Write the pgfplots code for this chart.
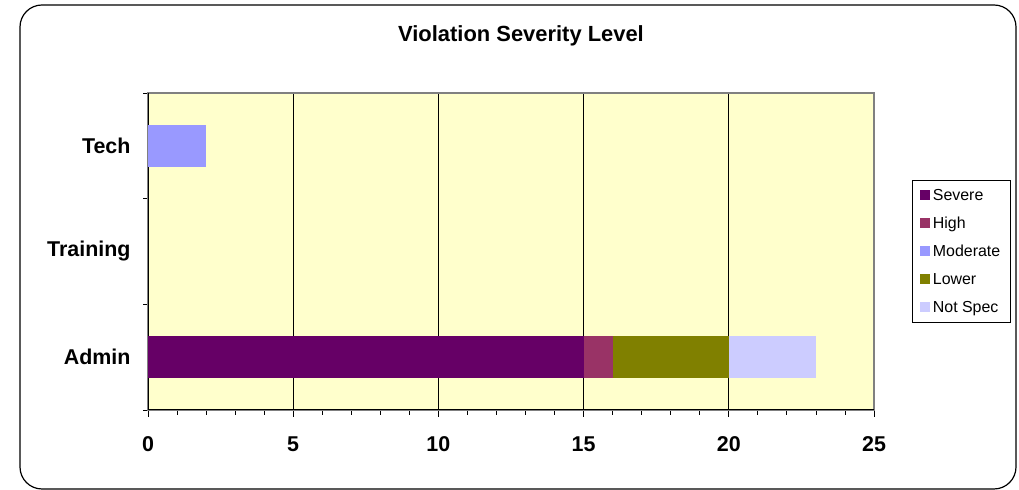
\documentclass[border=0pt]{standalone}
\usepackage{fontspec}
\setmainfont{Liberation Sans}
\usepackage{pgfplots}
\pgfplotsset{compat=1.18}
\definecolor{cSevere}{HTML}{660066}
\definecolor{cHigh}{HTML}{993366}
\definecolor{cModerate}{HTML}{9999FF}
\definecolor{cLower}{HTML}{808000}
\definecolor{cNotSpec}{HTML}{CCCCFF}
\definecolor{bgyellow}{HTML}{FFFFCC}
\begin{document}
\begin{tikzpicture}[x=1bp,y=1bp]
\path (0,0) rectangle (1019,490);
\draw[black, line width=1.2bp, rounded corners=22bp] (20,1) rectangle (1016,485);
\node[font=\bfseries\fontsize{22}{26}\selectfont] at (521,454) {Violation Severity Level};
\begin{axis}[
  at={(148bp,80bp)}, anchor=south west,
  width=726bp, height=317bp, scale only axis,
  xbar stacked, bar width=0.4,
  xmin=0, xmax=25, ymin=-0.5, ymax=2.5,
  xtick={0,5,10,15,20,25},
  minor x tick num=4,
  ytick={0,1,2}, yticklabels={Admin,Training,Tech},
  minor ytick={-0.5,0.5,1.5,2.5},
  major y tick style={draw=none},
  xtick pos=bottom, ytick pos=left,
  tick align=outside,
  major tick length=7bp, minor tick length=5bp,
  tick style={black, line width=0.8bp},
  minor tick style={black, line width=0.8bp},
  xmajorgrids, major x grid style={black, line width=0.8bp},
  axis line style={draw=gray, line width=1.5bp},
  axis background/.style={fill=bgyellow},
  /pgf/number format/assume math mode=true,
  ticklabel style={font=\bfseries\fontsize{21.5}{25}\selectfont},
  xticklabel style={yshift=-16bp},
  yticklabel style={xshift=-7bp},
  legend cell align=left,
  legend image code/.code={\fill[#1] (0bp,-5bp) rectangle (10bp,5bp);},
  legend style={at={(1.0523,0.5)}, anchor=west, draw=black, line width=0.8bp,
    font=\fontsize{16}{19}\selectfont, inner xsep=8bp, inner ysep=7bp, row sep=12bp,
    nodes={inner xsep=2.5bp, inner ysep=1bp, text height=12bp, text depth=2bp}},
]
\addplot[fill=cSevere, draw=none] coordinates {(15,0) (0,1) (0,2)};
\addplot[fill=cHigh, draw=none] coordinates {(1,0) (0,1) (0,2)};
\addplot[fill=cModerate, draw=none] coordinates {(0,0) (0,1) (2,2)};
\addplot[fill=cLower, draw=none] coordinates {(4,0) (0,1) (0,2)};
\addplot[fill=cNotSpec, draw=none] coordinates {(3,0) (0,1) (0,2)};
\legend{Severe,High,Moderate,Lower,Not Spec}
\draw[black, line width=1.2bp] (rel axis cs:0,1) -- (rel axis cs:0,0) -- (rel axis cs:1,0);
\end{axis}
\end{tikzpicture}
\end{document}
